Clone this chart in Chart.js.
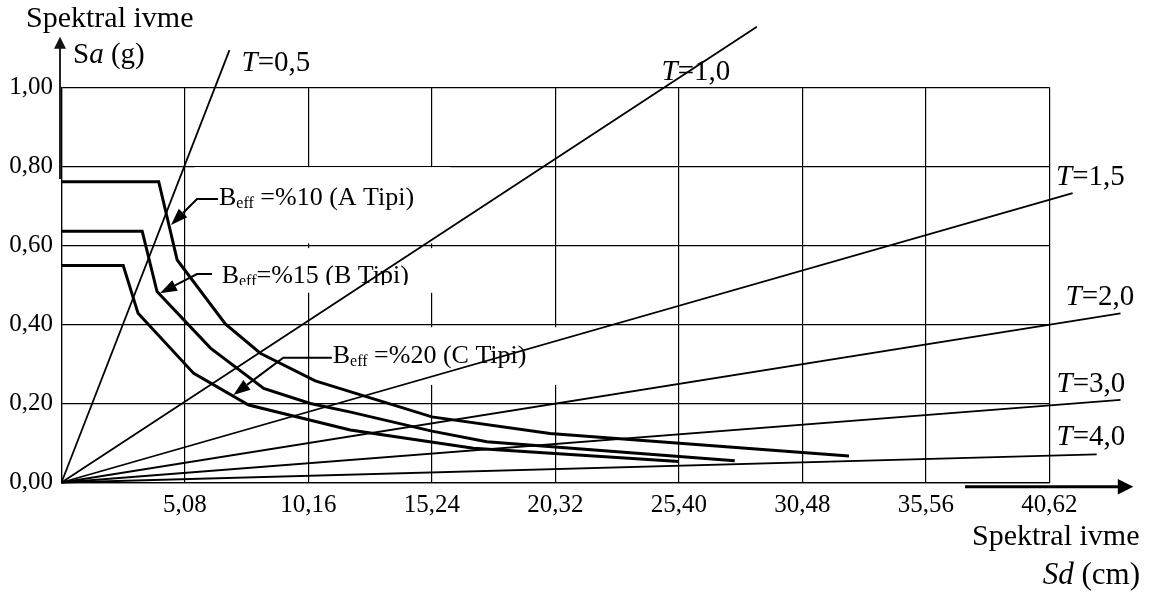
<!DOCTYPE html>
<html><head><meta charset="utf-8">
<script src="https://cdn.jsdelivr.net/npm/chart.js@4"></script>
<style>html,body{margin:0;padding:0;background:#fff;} canvas{display:block;}</style>
</head><body>
<canvas id="c" width="1166" height="597" style="width:1166px;height:597px"></canvas>
<script>
// ---- data ----
const X_TICKS = [0, 5.08, 10.16, 15.24, 20.32, 25.40, 30.48, 35.56, 40.64];
const X_LABELS = ['', '5,08', '10,16', '15,24', '20,32', '25,40', '30,48', '35,56', '40,62'];
const Y_TICKS = [0, 0.2, 0.4, 0.6, 0.8, 1.0];
const Y_LABELS = ['0,00', '0,20', '0,40', '0,60', '0,80', '1,00'];

const PERIODS = ['0,5', '1,0', '1,5', '2,0', '3,0', '4,0'];
const PERIOD_END_SD = [6.91, 28.61, 41.60, 43.57, 43.57, 42.59];
const PERIOD_END_SA = [1.094, 1.153, 0.732, 0.428, 0.209, 0.0714];

const A_SD = [0, 4.0, 4.76, 6.74, 8.18, 10.44, 15.24, 20.1, 32.4];
const A_SA = [0.761, 0.761, 0.563, 0.401, 0.327, 0.257, 0.166, 0.124, 0.067];
const B_SD = [0, 3.32, 3.93, 6.13, 8.32, 10.24, 11.9, 15.24, 17.5, 27.7];
const B_SA = [0.636, 0.636, 0.483, 0.340, 0.238, 0.200, 0.178, 0.130, 0.103, 0.055];
const C_SD = [0, 2.54, 3.15, 5.44, 7.70, 11.88, 16.95, 25.4];
const C_SA = [0.549, 0.549, 0.428, 0.276, 0.196, 0.133, 0.0865, 0.053];

const CURVE_TEXT = [' =%10 (A Tipi)', '=%15 (B Tipi)', ' =%20 (C Tipi)'];

// ---- layout / style (not data) ----
const SERIF = '"Liberation Serif","Times New Roman","DejaVu Serif",serif';
const NOTES = [
  {tip:[4.505,0.6516], elbow:[5.575,0.7174], end:[6.44,0.7174], text:[6.48,0.7022], box:[5.49,16.0,0.605,0.798], clipBottom:null},
  {tip:[4.05,0.4787],  elbow:[5.575,0.5276], end:[6.19,0.5276], text:[6.59,0.5048], box:[5.70,16.0,0.480,0.593], clipBottom:0.4995},
  {tip:[7.07,0.2214],  elbow:[9.125,0.3155], end:[11.12,0.3155], text:[11.16,0.3016], box:[10.64,20.9,0.247,0.393], clipBottom:null}
];
const PERIOD_LABEL_POS = [[7.41,1.042],[24.69,1.0185],[40.92,0.7528],[41.31,0.4491],[40.94,0.2298],[40.94,0.0949]];

function pts(xs, ys){ return xs.map((x,i)=>({x:x, y:ys[i]})); }

const datasets = [];
PERIODS.forEach((p,i)=>{
  datasets.push({label:'T='+p, data:[{x:0,y:0},{x:PERIOD_END_SD[i],y:PERIOD_END_SA[i]}],
    borderColor:'#000', borderWidth:1.8, pointRadius:0, showLine:true, clip:false, tension:0});
});
[[A_SD,A_SA],[B_SD,B_SA],[C_SD,C_SA]].forEach((c,i)=>{
  datasets.push({label:'curve'+i, data:pts(c[0],c[1]), borderColor:'#000', borderWidth:3,
    pointRadius:0, showLine:true, clip:false, tension:0, borderJoinStyle:'miter'});
});

function rich(ctx, x, y, parts){
  let cx = x;
  for (const p of parts){
    ctx.font = (p.i ? 'italic ' : '') + p.s + 'px ' + SERIF;
    ctx.fillText(p.t, cx, y + (p.dy||0));
    cx += ctx.measureText(p.t).width;
  }
  return cx;
}
function richWidth(ctx, parts){
  let w=0; for(const p of parts){ ctx.font=(p.i?'italic ':'')+p.s+'px '+SERIF; w+=ctx.measureText(p.t).width; } return w;
}
function arrowHead(ctx, fx, fy, tx, ty, len, half){
  const dx=tx-fx, dy=ty-fy, d=Math.hypot(dx,dy), ux=dx/d, uy=dy/d;
  const bx=tx-ux*len, by=ty-uy*len;
  ctx.beginPath(); ctx.moveTo(tx,ty);
  ctx.lineTo(bx-uy*half, by+ux*half); ctx.lineTo(bx+uy*half, by-ux*half);
  ctx.closePath(); ctx.fill();
  return [bx,by];
}

const decor = {
  id:'decor',
  beforeDatasetsDraw(chart){
    const ctx=chart.ctx, xs=chart.scales.x, ys=chart.scales.y;
    const X=v=>xs.getPixelForValue(v), Y=v=>ys.getPixelForValue(v);
    ctx.save();
    NOTES.forEach((n,i)=>{
      ctx.fillStyle='#fff';
      const b=n.box;
      ctx.fillRect(X(b[0]), Y(b[3]), X(b[1])-X(b[0]), Y(b[2])-Y(b[3]));
      ctx.save();
      if(n.clipBottom!==null){ ctx.beginPath(); ctx.rect(0,0,chart.width,Y(n.clipBottom)); ctx.clip(); }
      ctx.fillStyle='#000'; ctx.textAlign='left'; ctx.textBaseline='alphabetic';
      rich(ctx, X(n.text[0]), Y(n.text[1]), [{t:'B',s:26},{t:'eff',s:16,dy:3},{t:CURVE_TEXT[i],s:26}]);
      ctx.restore();
    });
    ctx.restore();
  },
  afterDatasetsDraw(chart){
    const ctx=chart.ctx, xs=chart.scales.x, ys=chart.scales.y;
    const X=v=>xs.getPixelForValue(v), Y=v=>ys.getPixelForValue(v);
    ctx.save();
    ctx.fillStyle='#000'; ctx.strokeStyle='#000'; ctx.lineWidth=2;
    NOTES.forEach(n=>{
      const tx=X(n.tip[0]), ty=Y(n.tip[1]), ex=X(n.elbow[0]), ey=Y(n.elbow[1]);
      const base=arrowHead(ctx, ex, ey, tx, ty, 17, 6);
      ctx.beginPath(); ctx.moveTo(X(n.end[0]), Y(n.end[1])); ctx.lineTo(ex,ey); ctx.lineTo(base[0],base[1]); ctx.stroke();
    });
    // period labels
    ctx.textAlign='left'; ctx.textBaseline='alphabetic';
    PERIODS.forEach((p,i)=>{
      const pos=PERIOD_LABEL_POS[i];
      rich(ctx, X(pos[0]), Y(pos[1]), [{t:'T',s:29,i:true},{t:'='+p,s:29}]);
    });
    // axis arrows
    const left=chart.chartArea.left, bottom=chart.chartArea.bottom;
    ctx.strokeStyle='#222'; ctx.fillStyle='#111'; ctx.lineWidth=2;
    ctx.beginPath(); ctx.moveTo(left-1.5, Y(0.768)); ctx.lineTo(left-1.5, 47); ctx.stroke();
    arrowHead(ctx, left-1.5, 100, left-1.5, 36.7, 12, 6);
    ctx.strokeStyle='#000'; ctx.fillStyle='#000'; ctx.lineWidth=3;
    ctx.beginPath(); ctx.moveTo(965, bottom+4.2); ctx.lineTo(1120, bottom+4.2); ctx.stroke();
    arrowHead(ctx, 1000, bottom+4.2, 1133.3, bottom+4.2, 15.5, 7.8);
    // axis titles
    rich(ctx, 26, 27, [{t:'Spektral ivme',s:30}]);
    rich(ctx, 73, 63, [{t:'S',s:29},{t:'a',s:29,i:true},{t:' (g)',s:29}]);
    rich(ctx, 972, 545, [{t:'Spektral ivme',s:30}]);
    const sd=[{t:'Sd',s:31,i:true},{t:' (cm)',s:31}];
    rich(ctx, 1140-richWidth(ctx,sd), 584, sd);
    ctx.restore();
  }
};

const tickFont = {family: SERIF, size: 25};
new Chart(document.getElementById('c'), {
  type: 'scatter',
  data: {datasets},
  options: {
    responsive: false, animation: false, devicePixelRatio: 1,
    layout: {padding: {left: 0, top: 87.3, right: 116.7, bottom: 0}},
    plugins: {legend: {display: false}, tooltip: {enabled: false}},
    scales: {
      x: {
        type: 'linear', min: 0, max: 40.64,
        afterBuildTicks: s => { s.ticks = X_TICKS.map(v => ({value: v})); },
        afterFit: s => { s.height = 597 - 482.5; },
        ticks: {callback: (v, i) => X_LABELS[i], font: tickFont, color: '#000', padding: 7.5, maxRotation: 0, autoSkip: false},
        grid: {color: '#000', lineWidth: 1.2, drawTicks: false},
        border: {color: '#000', width: 1.2}
      },
      y: {
        type: 'linear', min: 0, max: 1,
        afterBuildTicks: s => { s.ticks = Y_TICKS.map(v => ({value: v})); },
        afterFit: s => { s.width = 61.5; },
        ticks: {callback: (v, i) => Y_LABELS[i], font: tickFont, color: '#000', padding: 8.5, autoSkip: false},
        grid: {color: '#000', lineWidth: 1.2, drawTicks: false},
        border: {color: '#000', width: 1.2}
      }
    }
  },
  plugins: [decor]
});
</script>
</body></html>
